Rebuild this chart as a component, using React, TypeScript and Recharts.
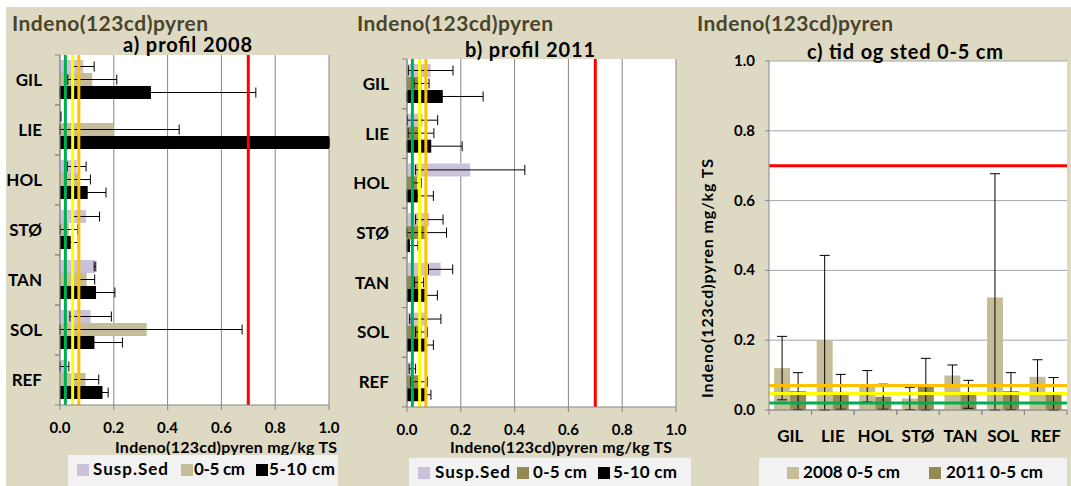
import { BarChart, Bar, XAxis, YAxis, CartesianGrid, ReferenceLine, ErrorBar } from 'recharts'

const sites = ['GIL', 'LIE', 'HOL', 'STØ', 'TAN', 'SOL', 'REF']

// a) profil 2008
const suspA = [0.087, 0.003, 0.062, 0.097, 0.13, 0.114, 0.015]
const suspAErr = [0.04, 0, 0.035, 0.05, 0.003, 0.077, 0.018]
const top05A = [0.12, 0.2, 0.068, 0.033, 0.099, 0.322, 0.095]
const top05AErr = [0.091, 0.243, 0.045, 0.032, 0.03, 0.355, 0.049]
const deep510A = [0.338, 1.0, 0.103, 0.04, 0.134, 0.128, 0.158]
const deep510AErr = [0.39, 0, 0.068, 0.028, 0.07, 0.104, 0.021]

// b) profil 2011
const suspB = [0.088, 0.058, 0.235, 0.083, 0.125, 0.068, 0.02]
const suspBErr = [0.083, 0.056, 0.203, 0.051, 0.045, 0.058, 0.012]
const top05B = [0.054, 0.052, 0.038, 0.07, 0.045, 0.054, 0.045]
const top05BErr = [0.028, 0.048, 0.015, 0.077, 0.017, 0.022, 0.031]
const deep510B = [0.133, 0.09, 0.04, 0.011, 0.067, 0.067, 0.067]
const deep510BErr = [0.15, 0.115, 0.058, 0.03, 0.046, 0.031, 0.022]

// c) tid og sted 0-5 cm
const err2011C = [0.053, 0.05, 0.036, 0.078, 0.04, 0.053, 0.048]

// class limits (mg/kg TS)
const classLimits = [0.02, 0.047, 0.07, 0.7]
const classColors = ['#00b050', '#ffff00', '#ffc000', '#ff0000']
const valueTicks = [0, 0.2, 0.4, 0.6, 0.8, 1.0]

const FONT = 'Lato, "Open Sans", sans-serif'
const BG = '#ddd9c3'
const TITLE = '#4a452a'
const SUSP = '#ccc1da'
const TAN = '#c4bd97'
const OLIVE = '#948a54'
const GRID = '#878787'

// error bars stop at zero, like the axis does
const clipErr = (v: number, e: number) => [Math.min(e, v), e]

const profileRows = (susp: number[], suspErr: number[], top: number[], topErr: number[], deep: number[], deepErr: number[]) =>
  sites.map((site, i) => ({
    site,
    susp: susp[i], suspErr: clipErr(susp[i], suspErr[i]),
    top: top[i], topErr: clipErr(top[i], topErr[i]),
    deep: deep[i], deepErr: clipErr(deep[i], deepErr[i]),
  }))

const timeRows = sites.map((site, i) => ({
  site,
  y2008: top05A[i], e2008: clipErr(top05A[i], top05AErr[i]),
  y2011: top05B[i], e2011: clipErr(top05B[i], err2011C[i]),
}))

function SiteTick({ x, y, payload, band }: any) {
  return (
    <g>
      <text x={x - 18} y={y + 6} textAnchor="end" fontFamily={FONT} fontWeight={700} fontSize={17} fill="#000">
        {payload.value}
      </text>
      <line x1={x - 5} x2={x} y1={y - band / 2} y2={y - band / 2} stroke={GRID} />
      <line x1={x - 5} x2={x} y1={y + band / 2} y2={y + band / 2} stroke={GRID} />
    </g>
  )
}

function ValueTickX({ x, y, payload }: any) {
  return (
    <g>
      <line x1={x} x2={x} y1={y} y2={y + 5} stroke={GRID} />
      <text x={x} y={y + 28} textAnchor="middle" fontFamily={FONT} fontWeight={700} fontSize={15} fill="#000">
        {Number(payload.value).toFixed(1)}
      </text>
    </g>
  )
}

function ValueTickY({ x, y, payload }: any) {
  return (
    <g>
      <line x1={x - 4} x2={x} y1={y} y2={y} stroke={GRID} />
      <text x={x - 14} y={y + 5} textAnchor="end" fontFamily={FONT} fontWeight={700} fontSize={15} fill="#000">
        {Number(payload.value).toFixed(1)}
      </text>
    </g>
  )
}

function SiteTickX({ x, y, payload, band }: any) {
  return (
    <g>
      <line x1={x - band / 2} x2={x - band / 2} y1={y} y2={y + 5} stroke={GRID} />
      <line x1={x + band / 2} x2={x + band / 2} y1={y} y2={y + 5} stroke={GRID} />
      <text x={x} y={y + 32} textAnchor="middle" fontFamily={FONT} fontWeight={700} fontSize={17} fill="#000">
        {payload.value}
      </text>
    </g>
  )
}

function ProfileChart({ left, plotTop, plotBottom, topColor, data }: any) {
  const height = 440
  const band = (plotBottom - plotTop) / sites.length
  return (
    <div style={{ position: 'absolute', left, top: 0 }}>
      <BarChart
        width={340}
        height={height}
        data={data}
        layout="vertical"
        barGap={0}
        barCategoryGap="10%"
        margin={{ top: plotTop, right: 11, bottom: height - plotBottom - 30, left: 0 }}
      >
        <CartesianGrid horizontal={false} stroke={GRID} fill="#fff" />
        <XAxis
          type="number"
          domain={[0, 1]}
          ticks={valueTicks}
          allowDataOverflow
          height={30}
          stroke={GRID}
          tickLine={false}
          tickSize={0}
          tickMargin={0}
          tick={<ValueTickX />}
        />
        <YAxis
          type="category"
          dataKey="site"
          width={60}
          stroke={GRID}
          tickLine={false}
          tickSize={0}
          tickMargin={0}
          tick={<SiteTick band={band} />}
        />
        <Bar dataKey="susp" fill={SUSP} isAnimationActive={false}>
          <ErrorBar dataKey="suspErr" direction="x" width={5} stroke="#000" strokeWidth={1} isAnimationActive={false} />
        </Bar>
        <Bar dataKey="top" fill={topColor} isAnimationActive={false}>
          <ErrorBar dataKey="topErr" direction="x" width={5} stroke="#000" strokeWidth={1} isAnimationActive={false} />
        </Bar>
        <Bar dataKey="deep" fill="#000" isAnimationActive={false}>
          <ErrorBar dataKey="deepErr" direction="x" width={5} stroke="#000" strokeWidth={1} isAnimationActive={false} />
        </Bar>
        {classLimits.map((v, i) => (
          <ReferenceLine key={v} x={v} stroke={classColors[i]} strokeWidth={3} />
        ))}
      </BarChart>
    </div>
  )
}

function TimeChart() {
  const height = 460
  const band = (1067 - 769) / sites.length
  return (
    <div style={{ position: 'absolute', left: 690, top: 0 }}>
      <BarChart
        width={381}
        height={height}
        data={timeRows}
        barGap={0}
        barCategoryGap="12%"
        margin={{ top: 61, right: 4, bottom: height - 410 - 40, left: 0 }}
      >
        <CartesianGrid vertical={false} stroke="#a6a6a6" fill="#fff" />
        <XAxis
          dataKey="site"
          height={40}
          stroke={GRID}
          tickLine={false}
          tickSize={0}
          tickMargin={0}
          tick={<SiteTickX band={band} />}
        />
        <YAxis
          type="number"
          domain={[0, 1]}
          ticks={valueTicks}
          width={79}
          stroke={GRID}
          tickLine={false}
          tickSize={0}
          tickMargin={0}
          tick={<ValueTickY />}
        />
        <Bar dataKey="y2008" fill={TAN} isAnimationActive={false}>
          <ErrorBar dataKey="e2008" direction="y" width={5} stroke="#000" strokeWidth={1} isAnimationActive={false} />
        </Bar>
        <Bar dataKey="y2011" fill={OLIVE} isAnimationActive={false}>
          <ErrorBar dataKey="e2011" direction="y" width={5} stroke="#000" strokeWidth={1} isAnimationActive={false} />
        </Bar>
        {classLimits.map((v, i) => (
          <ReferenceLine key={v} y={v} stroke={classColors[i]} strokeWidth={3} />
        ))}
      </BarChart>
    </div>
  )
}

const bold = { fontFamily: FONT, fontWeight: 700, lengthAdjust: 'spacing' } as const

function Legend({ box, items }: any) {
  return (
    <g>
      <rect x={box[0]} y={box[1]} width={box[2]} height={box[3]} fill="#f2f2f2" />
      {items.map((it: any) => (
        <g key={it.label}>
          <rect x={it.sx} y={box[1] + 9} width={12} height={12} fill={it.color} />
          <text x={it.tx} y={box[1] + 20} {...bold} fontSize={17} textLength={it.w} fill="#000">{it.label}</text>
        </g>
      ))}
    </g>
  )
}

export default function App() {
  return (
    <div style={{ position: 'absolute', left: 0, top: 0, width: 1071, height: 486, background: '#fff', overflow: 'hidden' }}>
      <div style={{ position: 'absolute', left: 6, top: 7, width: 1065, height: 479, background: BG }} />
      <ProfileChart left={0} plotTop={55} plotBottom={405} topColor={TAN}
        data={profileRows(suspA, suspAErr, top05A, top05AErr, deep510A, deep510AErr)} />
      <ProfileChart left={347} plotTop={59} plotBottom={407} topColor={OLIVE}
        data={profileRows(suspB, suspBErr, top05B, top05BErr, deep510B, deep510BErr)} />
      <TimeChart />
      <svg width={1071} height={486} style={{ position: 'absolute', left: 0, top: 0, pointerEvents: 'none' }}>
        <text x={12} y={31} {...bold} fontSize={21} textLength={196} fill={TITLE}>Indeno(123cd)pyren</text>
        <text x={357} y={31} {...bold} fontSize={21} textLength={196} fill={TITLE}>Indeno(123cd)pyren</text>
        <text x={697} y={31} {...bold} fontSize={21} textLength={196} fill={TITLE}>Indeno(123cd)pyren</text>

        <text x={123} y={52} {...bold} fontSize={20} textLength={129} fill="#000">a) profil 2008</text>
        <text x={465} y={57} {...bold} fontSize={20} textLength={130} fill="#000">b) profil 2011</text>
        <text x={807} y={59} {...bold} fontSize={20} textLength={196} fill="#000">c) tid og sted 0-5 cm</text>

        <text x={115} y={453} {...bold} fontSize={16} textLength={222} fill="#000">Indeno(123cd)pyren mg/kg TS</text>
        <text x={450} y={453} {...bold} fontSize={16} textLength={222} fill="#000">Indeno(123cd)pyren mg/kg TS</text>
        <text x={0} y={0} transform="translate(713 398) rotate(-90)" {...bold} fontSize={16} textLength={239} fill="#000">
          Indeno(123cd)pyren mg/kg TS
        </text>

        <Legend box={[68, 455, 270, 31]} items={[
          { label: 'Susp.Sed', color: SUSP, sx: 77, tx: 93, w: 75 },
          { label: '0-5 cm', color: TAN, sx: 181, tx: 194, w: 51 },
          { label: '5-10 cm', color: '#000', sx: 256, tx: 269, w: 66 },
        ]} />
        <Legend box={[409, 458, 282, 28]} items={[
          { label: 'Susp.Sed', color: SUSP, sx: 418, tx: 435, w: 75 },
          { label: '0-5 cm', color: OLIVE, sx: 517, tx: 533, w: 54 },
          { label: '5-10 cm', color: '#000', sx: 598, tx: 613, w: 64 },
        ]} />
        <Legend box={[759, 458, 308, 28]} items={[
          { label: '2008 0-5 cm', color: TAN, sx: 787, tx: 803, w: 97 },
          { label: '2011 0-5 cm', color: OLIVE, sx: 929, tx: 946, w: 97 },
        ]} />
      </svg>
    </div>
  )
}
